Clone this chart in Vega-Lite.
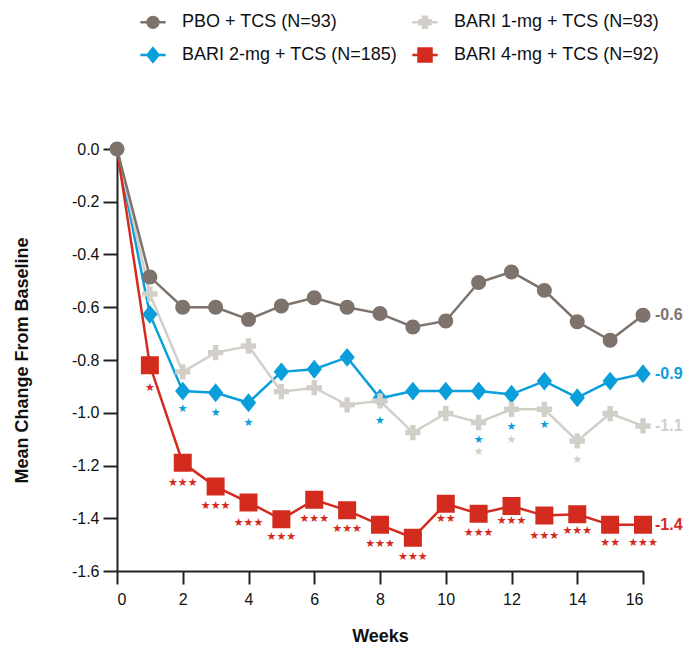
{
  "$schema": "https://vega.github.io/schema/vega-lite/v6.json",
  "width": 526,
  "height": 422,
  "autosize": "none",
  "padding": {"left": 117, "top": 149, "right": 44, "bottom": 75},
  "config": {
    "font": "Liberation Sans",
    "view": {"stroke": null},
    "axis": {"grid": false}
  },
  "datasets": {
    "series": [
      {"group": "BARI 2-mg + TCS (N=185)", "week": 0, "value": 0},
      {"group": "BARI 2-mg + TCS (N=185)", "week": 1, "value": -0.627},
      {"group": "BARI 2-mg + TCS (N=185)", "week": 2, "value": -0.918},
      {"group": "BARI 2-mg + TCS (N=185)", "week": 3, "value": -0.924},
      {"group": "BARI 2-mg + TCS (N=185)", "week": 4, "value": -0.962},
      {"group": "BARI 2-mg + TCS (N=185)", "week": 5, "value": -0.845},
      {"group": "BARI 2-mg + TCS (N=185)", "week": 6, "value": -0.835},
      {"group": "BARI 2-mg + TCS (N=185)", "week": 7, "value": -0.79},
      {"group": "BARI 2-mg + TCS (N=185)", "week": 8, "value": -0.945},
      {"group": "BARI 2-mg + TCS (N=185)", "week": 9, "value": -0.918},
      {"group": "BARI 2-mg + TCS (N=185)", "week": 10, "value": -0.918},
      {"group": "BARI 2-mg + TCS (N=185)", "week": 11, "value": -0.918},
      {"group": "BARI 2-mg + TCS (N=185)", "week": 12, "value": -0.93},
      {"group": "BARI 2-mg + TCS (N=185)", "week": 13, "value": -0.88},
      {"group": "BARI 2-mg + TCS (N=185)", "week": 14, "value": -0.943},
      {"group": "BARI 2-mg + TCS (N=185)", "week": 15, "value": -0.88},
      {"group": "BARI 2-mg + TCS (N=185)", "week": 16, "value": -0.852},
      {"group": "BARI 1-mg + TCS (N=93)", "week": 0, "value": 0},
      {"group": "BARI 1-mg + TCS (N=93)", "week": 1, "value": -0.55},
      {"group": "BARI 1-mg + TCS (N=93)", "week": 2, "value": -0.845},
      {"group": "BARI 1-mg + TCS (N=93)", "week": 3, "value": -0.772},
      {"group": "BARI 1-mg + TCS (N=93)", "week": 4, "value": -0.747},
      {"group": "BARI 1-mg + TCS (N=93)", "week": 5, "value": -0.92},
      {"group": "BARI 1-mg + TCS (N=93)", "week": 6, "value": -0.905},
      {"group": "BARI 1-mg + TCS (N=93)", "week": 7, "value": -0.97},
      {"group": "BARI 1-mg + TCS (N=93)", "week": 8, "value": -0.955},
      {"group": "BARI 1-mg + TCS (N=93)", "week": 9, "value": -1.075},
      {"group": "BARI 1-mg + TCS (N=93)", "week": 10, "value": -1.003},
      {"group": "BARI 1-mg + TCS (N=93)", "week": 11, "value": -1.037},
      {"group": "BARI 1-mg + TCS (N=93)", "week": 12, "value": -0.987},
      {"group": "BARI 1-mg + TCS (N=93)", "week": 13, "value": -0.987},
      {"group": "BARI 1-mg + TCS (N=93)", "week": 14, "value": -1.107},
      {"group": "BARI 1-mg + TCS (N=93)", "week": 15, "value": -1.003},
      {"group": "BARI 1-mg + TCS (N=93)", "week": 16, "value": -1.05},
      {"group": "BARI 4-mg + TCS (N=92)", "week": 0, "value": 0},
      {"group": "BARI 4-mg + TCS (N=92)", "week": 1, "value": -0.82},
      {"group": "BARI 4-mg + TCS (N=92)", "week": 2, "value": -1.19},
      {"group": "BARI 4-mg + TCS (N=92)", "week": 3, "value": -1.28},
      {"group": "BARI 4-mg + TCS (N=92)", "week": 4, "value": -1.34},
      {"group": "BARI 4-mg + TCS (N=92)", "week": 5, "value": -1.404},
      {"group": "BARI 4-mg + TCS (N=92)", "week": 6, "value": -1.33},
      {"group": "BARI 4-mg + TCS (N=92)", "week": 7, "value": -1.37},
      {"group": "BARI 4-mg + TCS (N=92)", "week": 8, "value": -1.425},
      {"group": "BARI 4-mg + TCS (N=92)", "week": 9, "value": -1.474},
      {"group": "BARI 4-mg + TCS (N=92)", "week": 10, "value": -1.345},
      {"group": "BARI 4-mg + TCS (N=92)", "week": 11, "value": -1.383},
      {"group": "BARI 4-mg + TCS (N=92)", "week": 12, "value": -1.354},
      {"group": "BARI 4-mg + TCS (N=92)", "week": 13, "value": -1.39},
      {"group": "BARI 4-mg + TCS (N=92)", "week": 14, "value": -1.385},
      {"group": "BARI 4-mg + TCS (N=92)", "week": 15, "value": -1.425},
      {"group": "BARI 4-mg + TCS (N=92)", "week": 16, "value": -1.425},
      {"group": "PBO + TCS (N=93)", "week": 0, "value": 0},
      {"group": "PBO + TCS (N=93)", "week": 1, "value": -0.485},
      {"group": "PBO + TCS (N=93)", "week": 2, "value": -0.6},
      {"group": "PBO + TCS (N=93)", "week": 3, "value": -0.6},
      {"group": "PBO + TCS (N=93)", "week": 4, "value": -0.646},
      {"group": "PBO + TCS (N=93)", "week": 5, "value": -0.595},
      {"group": "PBO + TCS (N=93)", "week": 6, "value": -0.564},
      {"group": "PBO + TCS (N=93)", "week": 7, "value": -0.6},
      {"group": "PBO + TCS (N=93)", "week": 8, "value": -0.624},
      {"group": "PBO + TCS (N=93)", "week": 9, "value": -0.675},
      {"group": "PBO + TCS (N=93)", "week": 10, "value": -0.652},
      {"group": "PBO + TCS (N=93)", "week": 11, "value": -0.506},
      {"group": "PBO + TCS (N=93)", "week": 12, "value": -0.466},
      {"group": "PBO + TCS (N=93)", "week": 13, "value": -0.536},
      {"group": "PBO + TCS (N=93)", "week": 14, "value": -0.655},
      {"group": "PBO + TCS (N=93)", "week": 15, "value": -0.725},
      {"group": "PBO + TCS (N=93)", "week": 16, "value": -0.63}
    ],
    "stars": [
      {"group": "BARI 4-mg + TCS (N=92)", "week": 1, "value": -0.905, "label": "★"},
      {"group": "BARI 4-mg + TCS (N=92)", "week": 2, "value": -1.265, "label": "★★★"},
      {"group": "BARI 4-mg + TCS (N=92)", "week": 3, "value": -1.354, "label": "★★★"},
      {"group": "BARI 4-mg + TCS (N=92)", "week": 4, "value": -1.417, "label": "★★★"},
      {"group": "BARI 4-mg + TCS (N=92)", "week": 5, "value": -1.471, "label": "★★★"},
      {"group": "BARI 4-mg + TCS (N=92)", "week": 6, "value": -1.402, "label": "★★★"},
      {"group": "BARI 4-mg + TCS (N=92)", "week": 7, "value": -1.442, "label": "★★★"},
      {"group": "BARI 4-mg + TCS (N=92)", "week": 8, "value": -1.499, "label": "★★★"},
      {"group": "BARI 4-mg + TCS (N=92)", "week": 9, "value": -1.547, "label": "★★★"},
      {"group": "BARI 4-mg + TCS (N=92)", "week": 10, "value": -1.404, "label": "★★"},
      {"group": "BARI 4-mg + TCS (N=92)", "week": 11, "value": -1.455, "label": "★★★"},
      {"group": "BARI 4-mg + TCS (N=92)", "week": 12, "value": -1.41, "label": "★★★"},
      {"group": "BARI 4-mg + TCS (N=92)", "week": 13, "value": -1.467, "label": "★★★"},
      {"group": "BARI 4-mg + TCS (N=92)", "week": 14, "value": -1.448, "label": "★★★"},
      {"group": "BARI 4-mg + TCS (N=92)", "week": 15, "value": -1.493, "label": "★★"},
      {"group": "BARI 4-mg + TCS (N=92)", "week": 16, "value": -1.493, "label": "★★★"},
      {"group": "BARI 2-mg + TCS (N=185)", "week": 2, "value": -0.987, "label": "★"},
      {"group": "BARI 2-mg + TCS (N=185)", "week": 3, "value": -1.0, "label": "★"},
      {"group": "BARI 2-mg + TCS (N=185)", "week": 4, "value": -1.038, "label": "★"},
      {"group": "BARI 2-mg + TCS (N=185)", "week": 8, "value": -1.031, "label": "★"},
      {"group": "BARI 2-mg + TCS (N=185)", "week": 11, "value": -1.104, "label": "★"},
      {"group": "BARI 2-mg + TCS (N=185)", "week": 12, "value": -1.054, "label": "★"},
      {"group": "BARI 2-mg + TCS (N=185)", "week": 13, "value": -1.048, "label": "★"},
      {"group": "BARI 1-mg + TCS (N=93)", "week": 11, "value": -1.148, "label": "★"},
      {"group": "BARI 1-mg + TCS (N=93)", "week": 12, "value": -1.104, "label": "★"},
      {"group": "BARI 1-mg + TCS (N=93)", "week": 14, "value": -1.179, "label": "★"}
    ],
    "ends": [
      {"group": "PBO + TCS (N=93)", "week": 16, "value": -0.63, "label": "-0.6"},
      {"group": "BARI 2-mg + TCS (N=185)", "week": 16, "value": -0.852, "label": "-0.9"},
      {"group": "BARI 1-mg + TCS (N=93)", "week": 16, "value": -1.05, "label": "-1.1"},
      {"group": "BARI 4-mg + TCS (N=92)", "week": 16, "value": -1.425, "label": "-1.4"}
    ]
  },
  "layer": [
    {
      "mark": {"type": "rule", "color": "#111111", "strokeWidth": 3, "strokeDash": [0, 7.6], "strokeCap": "round"},
      "encoding": {"y": {"datum": 0, "type": "quantitative", "scale": {"domain": [-1.6, 0]}}}
    },
    {
      "data": {"name": "series"},
      "mark": {"type": "line", "strokeWidth": 2.5},
      "encoding": {
        "x": {"field": "week", "type": "quantitative",
          "scale": {"domain": [0, 16], "nice": false},
          "axis": {"values": [0, 2, 4, 6, 8, 10, 12, 14, 16], "title": "Weeks", "titleFontSize": 18, "titleFontWeight": "bold", "titleColor": "#111111", "titlePadding": 20, "labelFontSize": 16, "labelColor": "#111111", "labelPadding": 7, "tickSize": 13, "tickWidth": 2, "tickColor": "#222222", "domainColor": "#222222", "domainWidth": 2}},
        "y": {"field": "value", "type": "quantitative",
          "scale": {"domain": [-1.6, 0], "nice": false, "zero": false},
          "axis": {"values": [-1.6, -1.4, -1.2, -1.0, -0.8, -0.6, -0.4, -0.2, 0], "labelExpr": "(datum.value < -0.001 ? '-' : '') + format(abs(datum.value), '.1f')", "title": "Mean Change From Baseline", "titleFontSize": 18, "titleFontWeight": "bold", "titleColor": "#111111", "titlePadding": 40, "labelFontSize": 16, "labelColor": "#111111", "labelPadding": 4, "tickSize": 14, "tickWidth": 2, "tickColor": "#222222", "domainColor": "#222222", "domainWidth": 2}},
        "color": {"field": "group", "type": "nominal",
          "scale": {"domain": ["PBO + TCS (N=93)", "BARI 1-mg + TCS (N=93)", "BARI 2-mg + TCS (N=185)", "BARI 4-mg + TCS (N=92)"],
                    "range": ["#7d736c", "#d2cfc8", "#0a9edb", "#d42b1f"]},
          "legend": {"orient": "none", "legendX": 27, "legendY": -136, "columns": 2, "direction": "horizontal", "title": null, "padding": 0,
            "labelFontSize": 18, "labelColor": "#111111", "labelOffset": 20, "labelLimit": 0, "columnPadding": 9, "rowPadding": 10,
            "symbolSize": 169, "symbolStrokeWidth": 2.5,
            "encode": {"symbols": {"update": {"stroke": {"scale": "color", "field": "value"}, "strokeWidth": {"value": 2.5}, "size": {"value": 169}, "opacity": {"value": 1}}}}}},
        "detail": {"field": "group"}
      }
    },
    {
      "data": {"name": "series"},
      "transform": [{"filter": "datum.week > 0 || datum.group == 'PBO + TCS (N=93)'"}],
      "mark": {"type": "point", "filled": true, "opacity": 1, "size": 324},
      "encoding": {
        "x": {"field": "week", "type": "quantitative"},
        "y": {"field": "value", "type": "quantitative"},
        "color": {"field": "group", "type": "nominal"},
        "shape": {"field": "group", "type": "nominal",
          "scale": {"domain": ["PBO + TCS (N=93)", "BARI 1-mg + TCS (N=93)", "BARI 2-mg + TCS (N=185)", "BARI 4-mg + TCS (N=92)"],
                    "range": [
                      "M-1.95,0H1.95M-0.83,0A0.83,0.83 0 1,0 0.83,0A0.83,0.83 0 1,0 -0.83,0Z",
                      "M-1.95,0H1.95M-0.85,-0.3H-0.3V-0.85H0.3V-0.3H0.85V0.3H0.3V0.85H-0.3V0.3H-0.85Z",
                      "M-1.95,0H1.95M0,-1.05L0.85,0L0,1.05L-0.85,0Z",
                      "M-1.95,0H1.95M-1,-1H1V1H-1Z"
                    ]},
          "legend": {"orient": "none", "legendX": 27, "legendY": -136, "columns": 2, "direction": "horizontal", "title": null, "padding": 0,
            "labelFontSize": 18, "labelColor": "#111111", "labelOffset": 20, "labelLimit": 0, "columnPadding": 9, "rowPadding": 10,
            "symbolSize": 169, "symbolStrokeWidth": 2.5,
            "encode": {"symbols": {"update": {"stroke": {"scale": "color", "field": "value"}, "strokeWidth": {"value": 2.5}, "size": {"value": 169}, "opacity": {"value": 1}}}}}}
      }
    },
    {
      "data": {"name": "stars"},
      "mark": {"type": "text", "font": "DejaVu Sans", "fontSize": 11, "align": "center", "baseline": "middle"},
      "encoding": {
        "x": {"field": "week", "type": "quantitative"},
        "y": {"field": "value", "type": "quantitative"},
        "text": {"field": "label"},
        "color": {"field": "group", "type": "nominal"}
      }
    },
    {
      "data": {"name": "ends"},
      "mark": {"type": "text", "fontSize": 16, "fontWeight": "bold", "align": "left", "baseline": "middle", "dx": 12},
      "encoding": {
        "x": {"field": "week", "type": "quantitative"},
        "y": {"field": "value", "type": "quantitative"},
        "text": {"field": "label"},
        "color": {"field": "group", "type": "nominal"}
      }
    }
  ]
}
